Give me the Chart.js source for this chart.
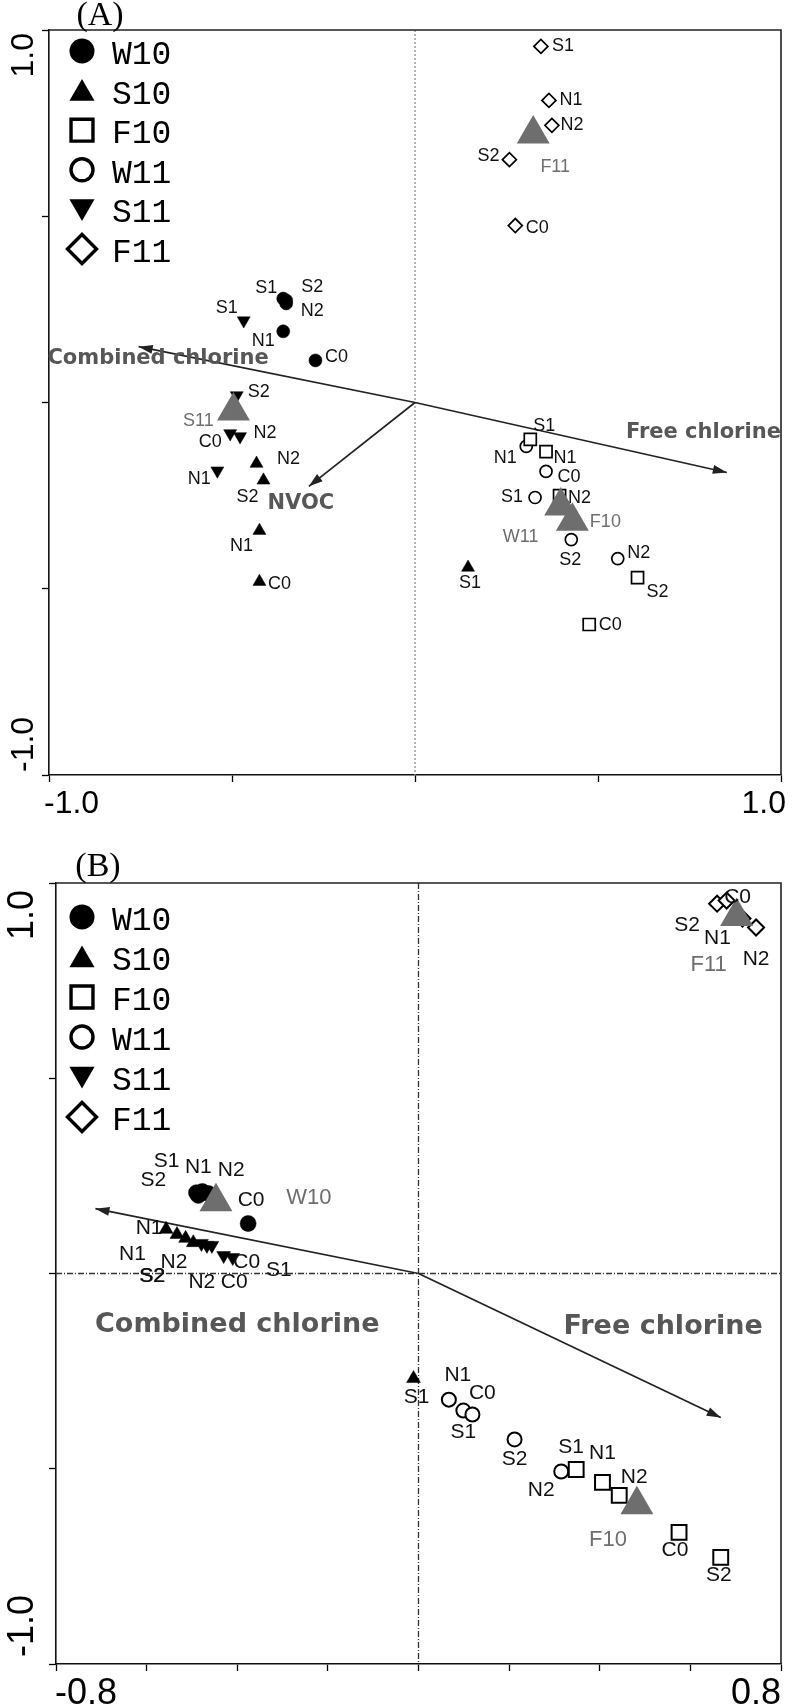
<!DOCTYPE html>
<html>
<head>
<meta charset="utf-8">
<script src="https://cdn.jsdelivr.net/npm/chart.js@4.4.0/dist/chart.umd.min.js"></script>
<style>
  html, body { margin: 0; padding: 0; background: #fff; }
  .panel { position: relative; width: 800px; }
  #panelA { height: 840px; }
  #panelB { height: 866px; }
</style>
</head>
<body>
<div class="panel" id="panelA"><canvas id="chartA"></canvas></div>
<div class="panel" id="panelB"><canvas id="chartB"></canvas></div>
<script>
const groupNames = ['W10', 'S10', 'F10', 'W11', 'S11', 'F11'];

// ---- panel (A) ----
const aXTickLabels = ['-1.0', '1.0'];
const aYTickLabels = ['-1.0', '1.0'];
const aArrowNames = ['Combined chlorine', 'Free chlorine', 'NVOC'];
const aArrowX = [-0.755, 0.852, -0.290];
const aArrowY = [0.150, -0.188, -0.225];

const aW10Labels = ['S1', 'S2', 'N2', 'N1', 'C0'];
const aW10X = [-0.360, -0.352, -0.352, -0.360, -0.272];
const aW10Y = [0.279, 0.274, 0.266, 0.191, 0.113];
const aS10Labels = ['N2', 'S2', 'N1', 'C0', 'S1'];
const aS10X = [-0.433, -0.414, -0.425, -0.425, 0.145];
const aS10Y = [-0.164, -0.209, -0.344, -0.481, -0.443];
const aF10Labels = ['S1', 'N1', 'N2', 'S2', 'C0'];
const aF10X = [0.315, 0.358, 0.395, 0.608, 0.476];
const aF10Y = [-0.099, -0.132, -0.250, -0.470, -0.596];
const aW11Labels = ['N1', 'C0', 'S1', 'S2', 'N2'];
const aW11X = [0.304, 0.358, 0.328, 0.427, 0.554];
const aW11Y = [-0.118, -0.185, -0.255, -0.368, -0.419];
const aS11Labels = ['S1', 'S2', 'C0', 'N2', 'N1'];
const aS11X = [-0.468, -0.487, -0.505, -0.478, -0.540];
const aS11Y = [0.220, 0.019, -0.083, -0.091, -0.183];
const aF11Labels = ['S1', 'N1', 'N2', 'S2', 'C0'];
const aF11X = [0.344, 0.366, 0.374, 0.258, 0.274];
const aF11Y = [0.956, 0.811, 0.744, 0.652, 0.475];
const aCentroidNames = ['S11', 'F11', 'W11', 'F10'];
const aCentroidX = [-0.496, 0.323, 0.398, 0.430];
const aCentroidY = [-0.023, 0.721, -0.278, -0.319];

// ---- panel (B) ----
const bXTickLabels = ['-0.8', '0.8'];
const bYTickLabels = ['-1.0', '1.0'];
const bArrowNames = ['Combined chlorine', 'Free chlorine'];
const bArrowX = [-0.713, 0.667];
const bArrowY = [0.166, -0.369];

const bW10Labels = ['S1', 'S2', 'N1', 'N2', 'C0'];
const bW10X = [-0.490, -0.486, -0.477, -0.464, -0.376];
const bW10Y = [0.207, 0.200, 0.210, 0.205, 0.128];
const bS10Labels = ['N1', 'N2', 'S2', 'C0', 'S1'];
const bS10X = [-0.557, -0.533, -0.514, -0.497, -0.011];
const bS10Y = [0.113, 0.100, 0.090, 0.079, -0.269];
const bF10Labels = ['S1', 'N1', 'N2', 'C0', 'S2'];
const bF10X = [0.348, 0.406, 0.443, 0.575, 0.667];
const bF10Y = [-0.502, -0.535, -0.568, -0.663, -0.727];
const bW11Labels = ['N1', 'C0', 'S1', 'S2', 'N2'];
const bW11X = [0.067, 0.099, 0.119, 0.212, 0.315];
const bW11Y = [-0.323, -0.351, -0.361, -0.425, -0.507];
const bS11Labels = ['N1', 'S2', 'N2', 'C0', 'S1'];
const bS11X = [-0.479, -0.467, -0.456, -0.430, -0.410];
const bS11Y = [0.077, 0.072, 0.072, 0.046, 0.041];
const bF11Labels = ['S2', 'C0', 'N1', 'N2'];
const bF11X = [0.659, 0.680, 0.715, 0.745];
const bF11Y = [0.947, 0.955, 0.909, 0.886];
const bCentroidNames = ['W10', 'F11', 'F10'];
const bCentroidX = [-0.447, 0.702, 0.482];
const bCentroidY = [0.184, 0.914, -0.592];

// label placement (pixel offsets from each marker) - layout only
const aOffsets = {
    W10: [[-17, -11], [26, -13], [26, 8], [-20, 10], [21, -3]],
    S10: [[32, -5], [-16, 17], [-18, 15], [20, 2], [2, 16]],
    F10: [[14, -13], [19, 6], [20, 2], [20, 14], [21, 1]],
    W11: [[-21, 12], [23, 6], [-23, 0], [-1, 20], [21, -6]],
    S11: [[-17, -13], [22, -3], [-20, 9], [25, -3], [-18, 8]],
    F11: [[22, 0], [22, 0], [20, 0], [-21, -4], [22, 2]],
    centroids: [[-35, 10], [22, 33], [-40, 31], [33, 1]]
};
const aArrowLabelAt = [[-0.702, 0.118], [0.788, -0.081], [-0.312, -0.271]];
const bOffsets = {
    W10: [[-30, -31], [-45, -15], [-4, -24], [23, -23], [3, -23]],
    S10: [[-17, -1], [-3, 28], [-33, 38], [41, 40], [3, 19]],
    F10: [[-5, -22], [0, -29], [15, -18], [-4, 18], [-2, 18]],
    W11: [[9, -24], [19, -17], [-9, 18], [0, 20], [-20, 19]],
    S11: [[-69, 11], [-55, 31], [-10, 37], [23, 7], [46, 13]],
    F11: [[-30, 22], [11, -3], [-25, 20], [0, 32]],
    centroids: [[93, -4], [-28, 48], [-29, 35]]
};
const bArrowLabelAt = [[-0.400, -0.131], [0.540, -0.138]];

const groupStyles = {
    W10: {pointStyle: 'circle', rotation: 0, filled: true},
    S10: {pointStyle: 'triangle', rotation: 0, filled: true},
    F10: {pointStyle: 'rect', rotation: 0, filled: false},
    W11: {pointStyle: 'circle', rotation: 0, filled: false},
    S11: {pointStyle: 'triangle', rotation: 180, filled: true},
    F11: {pointStyle: 'rectRot', rotation: 0, filled: false}
};
const legendRadii = {W10: 12.5, S10: 14.5, F10: 15.5, W11: 11, S11: 14.5, F11: 14.5};
const legendShift = {W10: 0, S10: 3, F10: 0, W11: 0, S11: -3, F11: 0};

const panelA = {
    canvas: 'chartA', tag: '(A)',
    x: {min: -1, max: 1, step: 0.5}, y: {min: -1, max: 1, step: 0.5},
    padding: {left: 49, top: 30, right: 7, bottom: 65},
    groups: {
        W10: {x: aW10X, y: aW10Y, labels: aW10Labels},
        S10: {x: aS10X, y: aS10Y, labels: aS10Labels},
        F10: {x: aF10X, y: aF10Y, labels: aF10Labels},
        W11: {x: aW11X, y: aW11Y, labels: aW11Labels},
        S11: {x: aS11X, y: aS11Y, labels: aS11Labels},
        F11: {x: aF11X, y: aF11Y, labels: aF11Labels}
    },
    offsets: aOffsets,
    radii: {W10: 6.5, S10: 7.5, F10: 8.5, W11: 6, S11: 7.5, F11: 7},
    openBorder: 1.7,
    centroid: {x: aCentroidX, y: aCentroidY, labels: aCentroidNames, radius: 19},
    arrows: {names: aArrowNames, x: aArrowX, y: aArrowY, at: aArrowLabelAt},
    labelFont: '18px "Liberation Sans", Arial, sans-serif',
    centroidFont: '18px "Liberation Sans", Arial, sans-serif',
    arrowFont: 'bold 21px "DejaVu Sans", sans-serif',
    hZero: false, zeroColor: '#8c8c8c', zeroDash: [2, 2],
    xTickLabels: aXTickLabels, yTickLabels: aYTickLabels,
    tickFont: '32px "Liberation Sans", Arial, sans-serif',
    yLabelX: 33, yInset: 3, xLabelBase: 38, xLabelInsetL: -5, xLabelInsetR: 5,
    tagX: 51, tagY: -5,
    legend: {markerX: 33, textX: 63, top: 21, step: 39.6, border: 3.4, base: 13}
};

const panelB = {
    canvas: 'chartB', tag: '(B)',
    x: {min: -0.8, max: 0.8, step: 0.2}, y: {min: -1, max: 1, step: 0.5},
    padding: {left: 56, top: 43, right: 3, bottom: 42},
    groups: {
        W10: {x: bW10X, y: bW10Y, labels: bW10Labels},
        S10: {x: bS10X, y: bS10Y, labels: bS10Labels},
        F10: {x: bF10X, y: bF10Y, labels: bF10Labels},
        W11: {x: bW11X, y: bW11Y, labels: bW11Labels},
        S11: {x: bS11X, y: bS11Y, labels: bS11Labels},
        F11: {x: bF11X, y: bF11Y, labels: bF11Labels}
    },
    offsets: bOffsets,
    radii: {W10: 8, S10: 8, F10: 10.5, W11: 7, S11: 8, F11: 8},
    openBorder: 2,
    centroid: {x: bCentroidX, y: bCentroidY, labels: bCentroidNames, radius: 19},
    arrows: {names: bArrowNames, x: bArrowX, y: bArrowY, at: bArrowLabelAt},
    labelFont: '21px "Liberation Sans", Arial, sans-serif',
    centroidFont: '22px "Liberation Sans", Arial, sans-serif',
    arrowFont: 'bold 27px "DejaVu Sans", sans-serif',
    hZero: true, zeroColor: '#333', zeroDash: [6, 2, 1, 2],
    xTickLabels: bXTickLabels, yTickLabels: bYTickLabels,
    tickFont: '36px "Liberation Sans", Arial, sans-serif',
    yLabelX: 33, yInset: 7, xLabelBase: 40, xLabelInsetL: -1, xLabelInsetR: 0,
    tagX: 42, tagY: -7,
    legend: {markerX: 26, textX: 56, top: 34, step: 40, border: 3.4, base: 13}
};

function drawMarker(ctx, opts, x, y) {
    if (Chart.helpers && Chart.helpers.drawPoint) {
        Chart.helpers.drawPoint(ctx, opts, x, y);
    } else {
        ctx.beginPath();
        ctx.arc(x, y, opts.radius, 0, Math.PI * 2);
        ctx.fill();
        if (opts.borderWidth > 0) ctx.stroke();
    }
}

const biplotPlugin = {
    id: 'biplot',
    beforeDatasetsDraw(chart, args, o) {
        const ctx = chart.ctx;
        const ca = chart.chartArea;
        ctx.save();
        ctx.strokeStyle = o.zeroColor;
        ctx.lineWidth = 1.3;
        ctx.setLineDash(o.zeroDash);
        const x0 = chart.scales.x.getPixelForValue(0);
        ctx.beginPath();
        ctx.moveTo(x0, ca.top);
        ctx.lineTo(x0, ca.bottom);
        ctx.stroke();
        if (o.hZero) {
            const y0 = chart.scales.y.getPixelForValue(0);
            ctx.beginPath();
            ctx.moveTo(ca.left, y0);
            ctx.lineTo(ca.right, y0);
            ctx.stroke();
        }
        ctx.restore();
    },
    afterDatasetsDraw(chart, args, o) {
        const ctx = chart.ctx;
        const ca = chart.chartArea;
        const xs = chart.scales.x;
        const ys = chart.scales.y;
        ctx.save();
        ctx.textAlign = 'center';
        ctx.textBaseline = 'middle';

        chart.data.datasets.forEach((d, i) => {
            const pts = chart.getDatasetMeta(i).data;
            if (d.isArrow) {
                const a = pts[0], b = pts[1];
                const ang = Math.atan2(b.y - a.y, b.x - a.x);
                const len = 14, hw = 4.5;
                ctx.fillStyle = '#222';
                ctx.beginPath();
                ctx.moveTo(b.x, b.y);
                ctx.lineTo(b.x - len * Math.cos(ang) + hw * Math.sin(ang), b.y - len * Math.sin(ang) - hw * Math.cos(ang));
                ctx.lineTo(b.x - len * Math.cos(ang) - hw * Math.sin(ang), b.y - len * Math.sin(ang) + hw * Math.cos(ang));
                ctx.closePath();
                ctx.fill();
                ctx.font = d.arrowFont;
                ctx.fillStyle = '#575757';
                ctx.fillText(d.label, xs.getPixelForValue(d.arrowLabelAt[0]), ys.getPixelForValue(d.arrowLabelAt[1]));
            } else if (d.ptLabels) {
                ctx.font = d.ptFont;
                ctx.fillStyle = d.ptColor;
                pts.forEach((pt, j) => {
                    const off = d.ptOffsets[j];
                    ctx.fillText(d.ptLabels[j], pt.x + off[0], pt.y + off[1]);
                });
            }
        });

        // legend
        const lg = o.legend;
        groupNames.forEach((g, k) => {
            const st = groupStyles[g];
            const cy = ca.top + lg.top + k * lg.step;
            ctx.fillStyle = st.filled ? '#000' : '#fff';
            ctx.strokeStyle = '#000';
            ctx.lineWidth = lg.border;
            drawMarker(ctx, {pointStyle: st.pointStyle, rotation: st.rotation, radius: legendRadii[g],
                borderWidth: st.filled ? 0 : lg.border}, ca.left + lg.markerX, cy + legendShift[g]);
            ctx.fillStyle = '#000';
            ctx.font = '33px "Liberation Mono", "Courier New", monospace';
            ctx.textAlign = 'left';
            ctx.textBaseline = 'alphabetic';
            ctx.fillText(g, ca.left + lg.textX, cy + lg.base);
        });

        // top and right frame
        ctx.strokeStyle = '#222';
        ctx.lineWidth = 1.6;
        ctx.setLineDash([]);
        ctx.beginPath();
        ctx.moveTo(ca.left, ca.top);
        ctx.lineTo(ca.right, ca.top);
        ctx.lineTo(ca.right, ca.bottom);
        ctx.stroke();

        // end labels of axes
        ctx.fillStyle = '#000';
        ctx.font = o.tickFont;
        ctx.textBaseline = 'alphabetic';
        const yTop = ys.getPixelForValue(ys.max);
        const yBot = ys.getPixelForValue(ys.min);
        ctx.save();
        ctx.translate(o.yLabelX, yTop + o.yInset);
        ctx.rotate(-Math.PI / 2);
        ctx.textAlign = 'right';
        ctx.fillText(o.yTickLabels[1], 0, 0);
        ctx.restore();
        ctx.save();
        ctx.translate(o.yLabelX, yBot - o.yInset);
        ctx.rotate(-Math.PI / 2);
        ctx.textAlign = 'left';
        ctx.fillText(o.yTickLabels[0], 0, 0);
        ctx.restore();
        ctx.textAlign = 'left';
        ctx.fillText(o.xTickLabels[0], xs.getPixelForValue(xs.min) + o.xLabelInsetL, ca.bottom + o.xLabelBase);
        ctx.textAlign = 'right';
        ctx.fillText(o.xTickLabels[1], xs.getPixelForValue(xs.max) + o.xLabelInsetR, ca.bottom + o.xLabelBase);

        // panel tag
        ctx.font = '34px "Liberation Serif", "Times New Roman", serif';
        ctx.textAlign = 'center';
        ctx.fillText(o.tag, ca.left + o.tagX, ca.top + o.tagY);
        ctx.restore();
    }
};

function buildDatasets(p) {
    const ds = [];
    ds.push({
        label: 'centroids',
        data: p.centroid.x.map((v, i) => ({x: v, y: p.centroid.y[i]})),
        pointStyle: 'triangle',
        pointRadius: p.centroid.radius,
        pointHoverRadius: p.centroid.radius,
        pointBackgroundColor: '#6e6e6e',
        pointBorderWidth: 0,
        order: 0,
        ptLabels: p.centroid.labels,
        ptOffsets: p.offsets.centroids,
        ptFont: p.centroidFont,
        ptColor: '#6e6e6e'
    });
    groupNames.forEach(g => {
        const src = p.groups[g];
        const st = groupStyles[g];
        ds.push({
            label: g,
            data: src.x.map((v, i) => ({x: v, y: src.y[i]})),
            pointStyle: st.pointStyle,
            pointRotation: st.rotation,
            pointRadius: p.radii[g],
            pointHoverRadius: p.radii[g],
            pointBackgroundColor: st.filled ? '#000' : '#fff',
            pointBorderColor: '#000',
            pointBorderWidth: st.filled ? 0.5 : p.openBorder,
            order: 1,
            ptLabels: src.labels,
            ptOffsets: p.offsets[g],
            ptFont: p.labelFont,
            ptColor: '#111'
        });
    });
    p.arrows.names.forEach((name, i) => {
        ds.push({
            label: name,
            data: [{x: 0, y: 0}, {x: p.arrows.x[i], y: p.arrows.y[i]}],
            showLine: true,
            borderColor: '#222',
            borderWidth: 1.7,
            pointRadius: 0,
            pointHoverRadius: 0,
            order: 2,
            isArrow: true,
            arrowLabelAt: p.arrows.at[i],
            arrowFont: p.arrowFont
        });
    });
    return ds;
}

function axisOptions(range, horizontal) {
    return {
        type: 'linear',
        min: range.min,
        max: range.max,
        ticks: {display: false, stepSize: range.step},
        grid: {display: true, drawOnChartArea: false, drawTicks: true, tickLength: 7, tickColor: '#000', tickWidth: 1.3},
        border: {display: true, color: '#111', width: 1.6},
        afterFit(scale) {
            if (horizontal) scale.height = 0; else scale.width = 0;
        }
    };
}

function buildPanel(p) {
    new Chart(document.getElementById(p.canvas), {
        type: 'scatter',
        data: {datasets: buildDatasets(p)},
        options: {
            responsive: true,
            maintainAspectRatio: false,
            animation: false,
            devicePixelRatio: 1,
            events: [],
            layout: {padding: p.padding},
            scales: {
                x: axisOptions(p.x, true),
                y: axisOptions(p.y, false)
            },
            plugins: {
                legend: {display: false},
                tooltip: {enabled: false},
                biplot: p
            }
        },
        plugins: [biplotPlugin]
    });
}

buildPanel(panelA);
buildPanel(panelB);
</script>
</body>
</html>
